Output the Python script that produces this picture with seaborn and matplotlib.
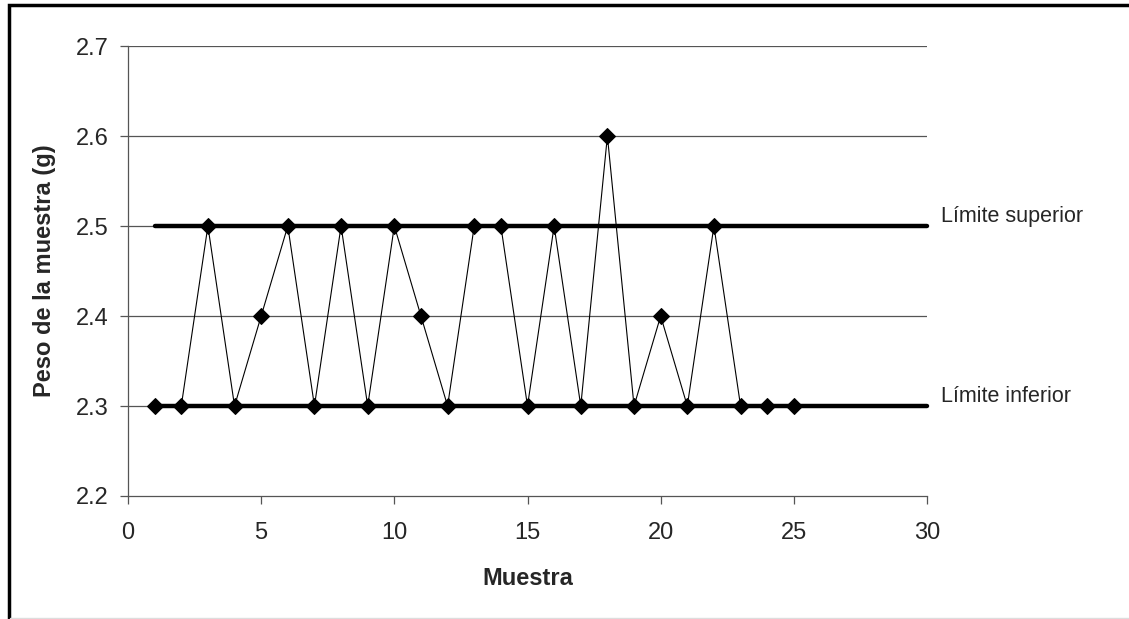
import matplotlib
matplotlib.use("Agg")
import matplotlib.pyplot as plt
from matplotlib.patches import Rectangle
import seaborn as sns
import pandas as pd

muestra = list(range(1, 26))
peso = [2.3, 2.3, 2.5, 2.3, 2.4, 2.5, 2.3, 2.5, 2.3, 2.5, 2.4, 2.3, 2.5,
        2.5, 2.3, 2.5, 2.3, 2.6, 2.3, 2.4, 2.3, 2.5, 2.3, 2.3, 2.3]
limite_x = [1, 30]
limite_superior = 2.5
limite_inferior = 2.3
limite_labels = ["Límite superior", "Límite inferior"]
x_ticks = [0, 5, 10, 15, 20, 25, 30]
y_ticks = [2.2, 2.3, 2.4, 2.5, 2.6, 2.7]

sns.set_style("white")
plt.rcParams['font.family'] = ['Liberation Sans', 'DejaVu Sans']

fig = plt.figure(figsize=(11.29, 6.19), dpi=100)
ax = fig.add_axes([128/1129, 1-496/619, (927-128)/1129, (496-46)/619])

grid_c = "#555555"
for yv in y_ticks[1:]:
    ax.axhline(yv, color=grid_c, linewidth=0.9, zorder=0)

df = pd.DataFrame({"Muestra": muestra, "Peso": peso})
sns.lineplot(data=df, x="Muestra", y="Peso", ax=ax, color="black",
             linewidth=0.8, marker="D", markersize=8.5,
             markeredgecolor="black", markerfacecolor="black", zorder=3)

for val, lab in zip([limite_superior, limite_inferior], limite_labels):
    sns.lineplot(x=limite_x, y=[val, val], ax=ax, color="black",
                 linewidth=3.2, zorder=4, clip_on=False)
    ax.annotate(lab, xy=(limite_x[1], val), xytext=(10, 7),
                textcoords="offset points", fontsize=15.5,
                va="center", ha="left", annotation_clip=False)

ax.set_xlim(0, 30)
ax.set_ylim(2.2, 2.7)
ax.set_xticks(x_ticks)
ax.set_yticks(y_ticks)
ax.set_yticklabels([f"{v:.1f}" for v in y_ticks])
ax.tick_params(axis="both", labelsize=17, direction="out", length=6,
               width=0.9, color=grid_c, pad=8, left=True, bottom=True)
ax.tick_params(axis="x", pad=13)

for s in ["top", "right"]:
    ax.spines[s].set_visible(False)
for s in ["left", "bottom"]:
    ax.spines[s].set_color(grid_c)
    ax.spines[s].set_linewidth(0.9)

ax.set_xlabel("Muestra", fontsize=17, fontweight="bold", labelpad=16)
ax.set_ylabel("Peso de la muestra (g)", fontsize=17, fontweight="bold", labelpad=14)

# Outer frame (partially cut off at right and bottom)
fig.add_artist(Rectangle((8.5/1129, -0.2), 2.0, 1.2 - 5.5/619,
                         transform=fig.transFigure, fill=False,
                         edgecolor="black", linewidth=2.5))
fig.add_artist(plt.Line2D([10/1129, 1], [0.8/619, 0.8/619],
                          transform=fig.transFigure, color="#dddddd",
                          linewidth=1))

fig.savefig("out.png", dpi=100)
